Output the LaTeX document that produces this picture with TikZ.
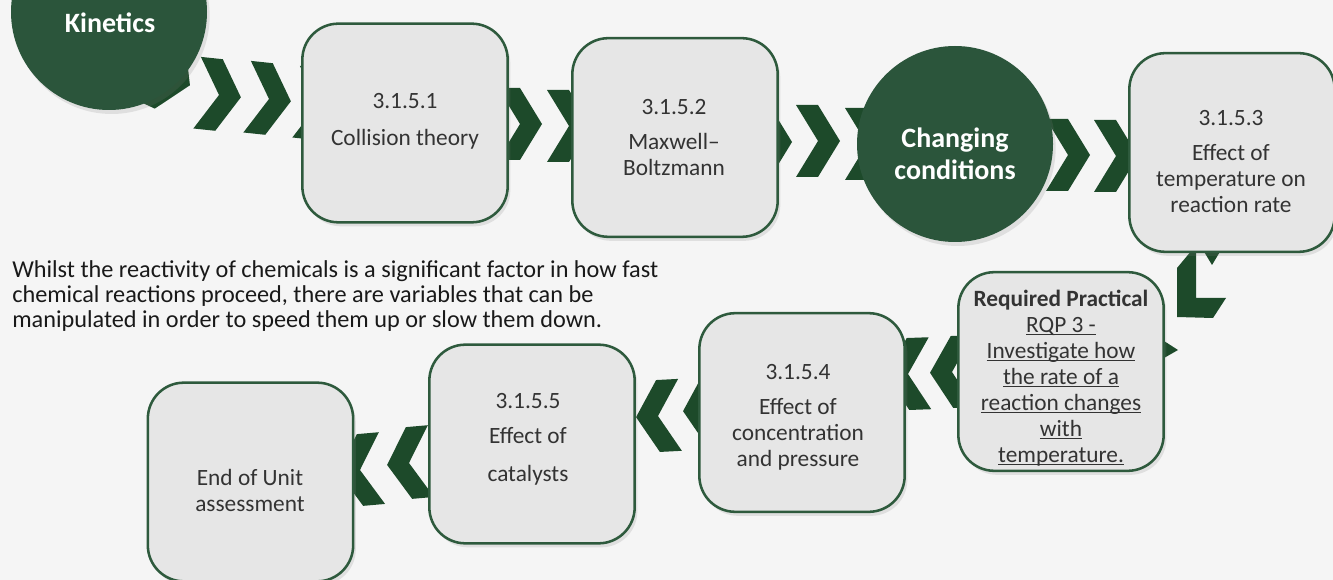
\documentclass[tikz,border=0pt]{standalone}
\usepackage{fontspec}
\setmainfont{Carlito}
\usetikzlibrary{shadows}

\definecolor{kgreen}{HTML}{2B553B}
\definecolor{chevgreen}{HTML}{1D4A2A}
\definecolor{boxgrey}{HTML}{E6E6E6}
\definecolor{boxline}{HTML}{2E5A3D}
\definecolor{bggrey}{HTML}{F5F5F5}
\newcommand{\rpline}[1]{\underline{\smash{#1}}}

\begin{document}
\begin{tikzpicture}[x=0.75pt,y=-0.75pt]
\tikzstyle{topic} = [circle, fill=kgreen, minimum size=147pt, inner sep=0pt, drop shadow={opacity=0.18, shadow xshift=2pt, shadow yshift=-3pt}]
\tikzstyle{block} = [rectangle, draw=boxline, line width=1.9pt, fill=boxgrey, rounded corners=27pt, minimum width=154pt, minimum height=149pt, drop shadow={opacity=0.18, shadow xshift=2pt, shadow yshift=-3pt}]
\tikzstyle{topictext} = [text=white, font=\fontsize{21}{24}\selectfont\bfseries, align=center]
\tikzstyle{blocktext} = [text=black!80, font=\fontsize{17.5}{19.5}\selectfont, align=center]
\tikzstyle{para} = [text=black!90, font=\fontsize{18.2}{18.75}\selectfont, align=left, inner sep=0pt, anchor=west]
\tikzset{chev/.pic={\fill[chevgreen] (-22,36) -- (0,36) -- (22,0) -- (0,-36) -- (-22,-36) -- (0,0) -- cycle;}}

\useasboundingbox (0,0) rectangle (1333,580);
\clip (0,0) rectangle (1333,580);
\fill[bggrey] (0,0) rectangle (1333,580);

% chevrons between the steps
\pic[rotate=-25] at (170,76) {chev};
\foreach \x/\y in {219/95, 269/99, 318/104}
  \pic[rotate=-6] at (\x,\y) {chev};
\foreach \x/\y in {520/124, 569/126, 770/142, 818/141, 867/144, 1068/155, 1116/156}
  \pic at (\x,\y) {chev};
\fill[chevgreen] (1177,317) -- (1177,268) -- (1192,250) -- (1196,250) -- (1196,298) -- (1226,298) -- (1213,318) -- cycle;
\fill[chevgreen] (1203,250) -- (1221,250) -- (1212,265) -- cycle;
\fill[chevgreen] (1164,341) -- (1178,350) -- (1164,358) -- cycle;
\foreach \x/\y in {952/372, 908/374}
  \pic[rotate=182] at (\x,\y) {chev};
\foreach \x/\y in {705/410, 658/416}
  \pic[rotate=183] at (\x,\y) {chev};
\foreach \x/\y in {409/463, 360/470}
  \pic[rotate=185] at (\x,\y) {chev};

% topics and steps
\node (kin) [topic] at (109,12) {};
\node (cp1) [block] at (405,123) {};
\node (cp2) [block] at (675,137.5) {};
\node (chg) [topic] at (955,144) {};
\node (cp3) [block] at (1232,152.5) {};
\node (rp) [block] at (1061,371.5) {};
\node (cp4) [block] at (802,412.5) {};
\node (cp5) [block] at (532,444) {};
\node (eou) [block] at (250.5,482) {};

\node (kint) [topictext] at (110,23) {Kinetics};
\node (chgt) [topictext] at (955,154) {Changing\\conditions};
\node (cp1t) [blocktext] at (405,121.5) {3.1.5.1\\[8pt]Collision theory};
\node (cp2t) [blocktext] at (674,137.5) {3.1.5.2\\[7pt]Maxwell–\\Boltzmann};
\node (cp3t) [blocktext] at (1231,161.5) {3.1.5.3\\[7pt]Effect of\\temperature on\\reaction rate};
\node (rpt) [blocktext] at (1061,377.5) {\textbf{Required Practical}\\\rpline{RQP 3 -}\\\rpline{Investigate how}\\\rpline{the rate of a}\\\rpline{reaction changes}\\\rpline{with}\\\rpline{temperature.}};
\node (cp4t) [blocktext] at (798,417) {3.1.5.4\\[7pt]Effect of\\concentration\\and pressure};
\node (cp5t) [blocktext] at (528,439.5) {3.1.5.5\\[7pt]Effect of\\[9pt]catalysts};
\node (eout) [blocktext] at (250,490.5) {End of Unit\\assessment};

\node (intro) [para] at (12,296) {Whilst the reactivity of chemicals is a significant factor in how fast\\chemical reactions proceed, there are variables that can be\\manipulated in order to speed them up or slow them down.};
\end{tikzpicture}
\end{document}
